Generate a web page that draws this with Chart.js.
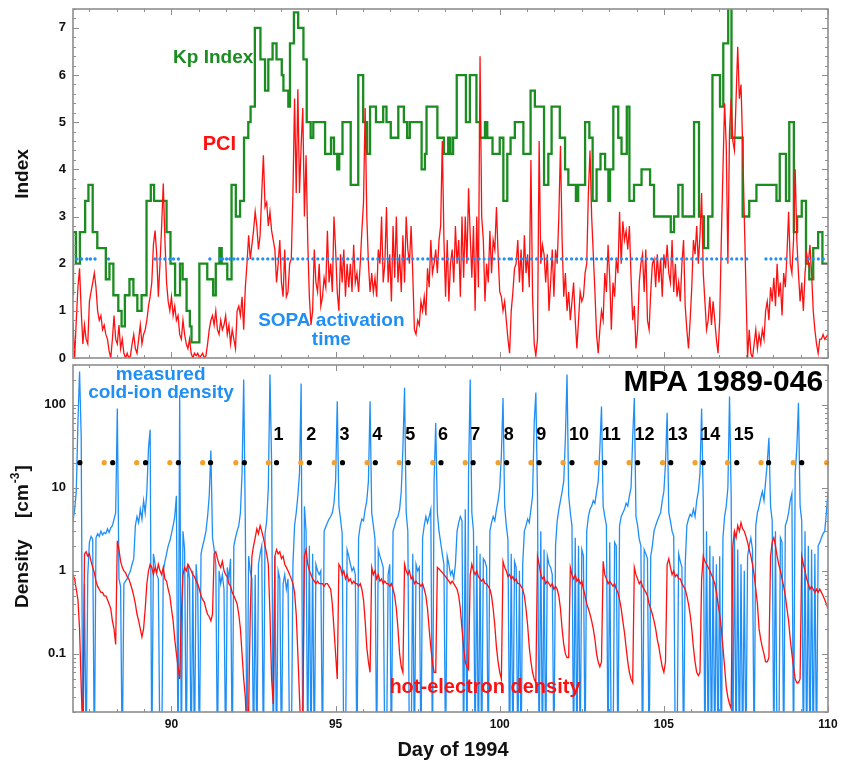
<!DOCTYPE html>
<html>
<head>
<meta charset="utf-8">
<script src="https://cdn.jsdelivr.net/npm/chart.js@4.4.1/dist/chart.umd.min.js"></script>
<style>
  body { margin: 0; background: #fff; }
  #wrap { position: relative; width: 842px; height: 764px; }
  #top { position: absolute; left: 0; top: 0; }
  #bot { position: absolute; left: 0; top: 361px; }
</style>
</head>
<body>
<div id="wrap">
  <canvas id="top" width="842" height="362"></canvas>
  <canvas id="bot" width="842" height="403"></canvas>
</div>
<script>
// ---------- values ----------
const SAMPLE_START = 87.0;   // day of first sample of the noisy series
const SAMPLE_STEP = 0.05;    // spacing of those samples, in days

// Kp index: day where a 3-hour value starts, and the value
const kpDays = [87.00,87.09,87.21,87.37,87.47,87.60,87.74,88.00,88.11,88.23,88.38,88.48,88.58,88.72,88.84,88.96,
  89.09,89.24,89.37,89.47,89.85,89.97,90.11,90.26,90.34,90.46,90.56,90.61,90.85,91.09,91.27,91.35,91.46,91.53,
  91.70,91.83,91.96,92.09,92.21,92.34,92.41,92.54,92.71,92.85,92.95,93.08,93.20,93.36,93.41,93.56,93.61,93.73,
  93.86,94.02,94.12,94.24,94.32,94.68,94.86,94.95,95.05,95.11,95.21,95.46,95.69,95.84,95.96,96.05,96.23,96.45,
  96.55,96.68,96.91,97.08,97.18,97.26,97.62,97.72,97.77,98.10,98.30,98.43,98.50,98.58,98.69,98.97,99.09,99.29,
  99.40,99.55,99.62,99.78,100.00,100.11,100.23,100.33,100.46,100.72,100.94,101.07,101.35,101.48,101.58,101.83,
  101.99,102.09,102.32,102.39,102.60,102.73,102.83,102.95,103.07,103.21,103.31,103.36,103.46,103.61,103.71,
  103.87,103.95,104.09,104.32,104.58,104.70,105.21,105.31,105.44,105.57,105.92,106.07,106.22,106.35,106.48,
  106.71,106.81,106.96,107.06,107.40,107.60,107.82,108.43,108.53,108.72,108.82,108.96,109.06,109.20,109.33,
  109.43,109.55,109.70,109.83,109.96,110.00];
const kpVals = [1.33,2.67,2.0,2.67,3.33,3.67,2.67,2.33,1.67,2.0,1.33,1.0,0.67,1.33,1.67,1.33,
  1.0,1.33,3.33,3.67,3.33,2.67,2.0,1.33,2.0,1.67,1.0,0.67,0.33,2.0,1.67,1.33,2.0,2.33,
  2.0,1.67,3.67,3.0,3.33,4.67,5.0,5.33,7.0,6.33,5.67,6.33,6.67,6.33,6.0,5.67,5.33,6.67,
  7.33,7.0,6.33,5.0,4.67,5.0,4.33,4.67,4.33,4.0,4.33,5.0,3.67,6.0,5.0,4.33,5.33,5.0,
  5.33,5.0,4.67,5.33,5.0,4.67,5.0,4.0,4.33,5.33,4.67,4.33,4.67,4.33,4.67,6.0,5.0,6.0,
  5.0,4.67,5.0,4.67,4.33,4.67,3.33,4.33,4.67,5.0,4.33,5.67,5.33,3.67,4.33,5.33,
  4.67,4.0,3.67,3.33,3.67,5.0,4.67,3.33,4.0,4.33,4.0,3.33,4.0,5.33,4.67,
  4.33,5.33,3.33,3.67,4.0,3.67,3.0,2.67,3.0,3.67,3.0,5.0,3.0,2.33,3.0,
  6.0,5.33,6.67,7.67,4.67,3.0,3.33,3.67,3.33,4.33,3.33,5.0,2.67,3.0,3.33,
  2.0,1.67,2.33,2.67,2.0,2.0];

// PCI index, one value every SAMPLE_STEP days
const pciVals = [0.75,0.0,0.8,1.5,1.9,1.0,0.3,0.7,0.4,0.3,1.2,1.4,1.6,1.8,1.5,1.0,0.8,0.9,0.6,0.7,
  0.5,0.4,0.15,0.0,0.4,0.9,0.4,0.3,0.7,0.2,0.4,0.1,0.0,0.1,0.0,0.05,0.3,0.5,0.2,0.1,
  0.4,0.7,0.3,0.5,0.6,0.8,1.1,1.3,1.6,2.4,2.7,2.2,1.3,2.0,2.8,3.7,2.5,1.6,1.2,1.0,
  1.3,0.9,1.1,0.8,0.9,0.5,0.4,0.8,0.5,0.3,0.2,0.4,0.1,0.0,0.1,0.05,0.1,0.0,0.05,0.1,
  0.0,0.05,0.3,0.6,0.8,0.9,0.7,1.0,0.6,0.5,0.8,0.6,0.7,0.9,0.5,0.7,0.3,0.6,0.4,0.2,
  1.0,1.1,0.9,1.3,0.6,1.5,2.0,2.6,2.1,2.4,2.7,3.1,2.8,2.3,2.6,3.5,4.3,3.2,3.3,2.8,
  3.1,
  2.7,2.5,2.3,1.6,2.0,2.5,1.6,1.3,2.3,1.3,1.4,2.0,2.1,3.5,5.5,3.5,5.7,3.5,4.5,5.3,
  3.0,4.3,2.5,1.3,0.7,1.0,2.3,1.6,1.4,2.0,1.1,1.3,1.7,1.5,2.7,1.6,2.0,1.4,3.0,2.3,1.4,
  1.0,2.2,1.6,2.3,1.3,2.0,1.5,2.0,1.4,2.4,1.6,1.8,1.4,2.0,2.7,3.3,5.3,3.0,2.0,1.4,
  1.8,1.4,1.7,1.3,2.3,2.0,3.0,1.6,2.0,3.2,1.6,2.2,1.2,2.8,1.7,3.0,1.6,2.2,1.4,2.6,
  1.6,3.0,2.3,2.0,2.8,1.8,0.6,0.5,0.8,0.7,1.2,1.0,1.3,0.9,1.9,1.5,2.5,1.8,2.0,
  2.3,1.8,2.5,2.8,4.6,2.5,1.3,2.5,1.2,2.0,2.3,1.6,2.8,2.0,2.5,1.3,3.0,1.7,3.0,2.0,3.6,2.6,
  1.7,2.8,1.0,3.0,1.5,6.4,3.0,2.5,1.2,2.0,1.6,2.7,1.8,2.5,2.3,3.2,2.2,1.4,1.3,1.0,
  1.2,0.8,0.4,0.1,1.0,1.4,1.9,2.0,2.5,1.6,2.3,1.4,2.6,1.8,2.2,1.5,4.2,1.3,0.3,0.05,
  0.4,4.6,2.0,2.4,2.2,1.6,2.2,1.0,
  1.6,2.3,1.3,2.3,2.0,3.0,4.5,2.5,1.3,1.8,1.0,1.4,0.8,1.2,1.6,0.8,0.2,0.8,1.4,1.2,
  1.3,1.8,2.0,3.5,4.4,3.0,2.2,1.4,0.5,0.1,0.6,1.0,0.8,1.8,1.4,2.4,1.7,0.6,1.6,1.3,2.1,
  1.8,3.1,2.0,2.9,2.5,2.7,2.3,2.8,1.7,0.8,1.1,0.2,0.6,1.6,2.0,2.2,1.4,2.3,0.8,0.6,
  1.4,2.0,2.1,1.5,2.2,1.6,2.1,1.3,2.2,1.9,2.4,1.8,1.6,2.5,1.4,2.0,1.3,1.6,1.2,2.0,
  2.5,1.1,0.6,0.2,0.8,1.5,2.5,2.2,2.8,2.0,2.6,3.5,1.8,1.2,0.6,0.8,1.3,0.7,1.2,0.8,0.4,
  0.1,0.8,2.5,4.0,5.4,4.5,2.0,4.8,5.5,4.6,4.4,5.5,6.6,5.5,5.8,4.5,3.0,1.5,0.0,0.6,
  0.1,0.0,0.3,0.6,0.2,0.5,0.3,0.6,0.4,1.0,1.2,0.8,1.5,1.2,1.7,1.1,2.0,1.3,1.6,0.9,
  1.8,1.5,2.2,3.1,2.0,1.8,2.5,4.0,2.5,1.8,1.2,1.6,1.0,1.8,2.2,2.0,
  2.4,1.8,1.0,0.6,0.3,0.1,0.4,0.4,0.5,0.4,0.45,0.5];

// SOPA activation times: dotted runs [from, to] and single dots
const SOPA_LEVEL = 2.1;
const sopaRuns = [[92.02, 99.10], [99.22, 100.30], [100.36, 103.95], [104.02, 107.62],
  [108.11, 108.47], [108.56, 108.84], [109.40, 110.0]];
const sopaDots = [87.11, 87.26, 87.42, 87.53, 87.67, 88.08, 89.50, 89.65, 89.80, 89.95, 90.06, 90.21,
  91.17, 91.48, 91.56, 91.68, 91.78, 91.90, 109.04];

// measured cold-ion density [cm^-3], one value every SAMPLE_STEP days (one row per day)
const coldIon = [
  4.0,5.5,9,60,250,40,0.005,0.7,0.005,0.9,2.2,2.6,2.4,0.005,2.5,2.8,2.6,3.0,2.7,2.9,
  2.8,3.2,2.9,3.3,3.5,4.2,5,90,0.8,0.65,0.005,0.7,0.75,0.8,0.9,1.0,1.2,1.4,3.5,4.5,
  3.8,5.5,4.2,7,5,9,30,50,0.005,1.6,1.2,0.9,0.8,0.005,0.005,1.0,1.3,1.6,2.0,2.3,
  2.8,3.5,4.5,8,0.005,130,0.005,3,1.8,0.005,1.2,0.8,0.005,1.0,0.005,1.2,0.6,0.005,1.6,2.0,
  2.4,3.0,4.5,8,28,2.5,1.8,1.2,0.005,1.0,0.7,0.9,0.6,0.005,1.1,0.8,1.4,0.005,2.0,2.5,
  3.0,3.5,5,15,200,3.5,0.005,1.5,1.0,0.8,0.005,0.9,0.005,1.2,1.6,2.0,0.005,2.8,4,10,
  230,20,0.005,1.5,0.005,1.0,0.8,0.005,0.7,0.9,0.6,0.8,0.005,0.005,1.2,3.5,5,8,15,180,
  0.005,6,3,0.005,2.0,0.005,1.6,0.005,1.2,1.0,0.9,1.0,0.005,3.0,3.4,3.8,4.2,4.5,5.0,6.5,
  12,110,6,4.2,2.8,0.005,0.005,1.8,1.5,1.2,1.0,1.1,0.9,0.005,2.5,3.5,4.2,4.0,5.5,7,
  12,110,5,3.5,2.4,0.005,1.8,1.5,1.3,1.1,0.005,0.005,0.9,1.2,0.005,3.0,3.5,4.2,4.5,5.5,
  9,30,160,5,3.0,0.005,0.005,1.6,0.005,1.2,1.0,1.1,0.005,2.5,3.5,4.5,3.8,4.5,5.5,0.005,
  12,60,5,3.0,2.2,1.6,1.2,0.005,1.5,1.2,0.9,1.0,0.8,1.2,3.0,3.8,4.5,4.0,0.005,5.5,
  0.005,15,200,5,3.0,0.005,2.0,0.005,1.6,0.005,1.4,1.3,1.1,0.005,3.0,3.8,4.5,4.0,5.5,7,
  10,25,120,6,3.5,2.4,0.005,1.6,0.005,1.3,1.1,0.005,1.0,0.005,1.2,3.0,3.5,4.2,3.8,5.5,
  8,60,140,8,0.005,3.0,0.005,1.8,0.005,1.5,1.2,1.1,0.9,0.005,2.0,4.0,5.5,7,9,12,
  40,230,8,5,3.5,0.005,2.5,0.005,2.0,0.005,1.8,1.5,0.005,3.0,4.5,5.5,6,7,6.5,9,
  12,30,95,6,4.5,3.5,0.005,2.2,0.005,0.005,2.2,2.0,0.005,3.5,4.5,5,5.5,6.5,6,8,
  10,40,120,4.5,3.5,2.4,2.0,0.005,1.8,1.6,1.4,0.005,1.5,2.0,3.0,3.5,4,4.5,5,7,
  9,20,80,5,4,3.0,2.6,0.005,0.005,1.6,1.3,1.1,0.005,1.2,3.5,4.2,4.8,4.5,5.5,4.5,
  7,9,15,90,7,0.005,3.0,0.005,2.0,0.005,1.5,0.005,1.2,0.005,1.5,0.005,2.5,4.5,6,10,
  125,8,0.005,3,0.005,1.8,0.005,1.2,0.005,1.0,0.005,1.5,2.0,2.5,1.8,0.005,3.5,5,6,7.5,
  9,7,12,20,40,6,4,0.005,3.0,0.005,0.005,2.5,2.2,0.005,3.5,4,5,7,8.5,0.005,
  15,30,105,6,4,0.005,3,0.005,2.0,0.005,1.8,0.005,1.6,0.005,2.0,2.2,2.5,2.8,3.0,5,
  9];

// hot-electron density [cm^-3], same sampling
const hotElectron = [
  0.9,0.8,0.6,0.45,0.2,0.04,0.01,1.6,1.7,1.5,1.6,1.3,1.1,0.95,0.75,0.65,0.6,0.55,0.55,0.5,
  0.5,0.45,0.4,0.35,0.25,0.2,0.13,2.3,1.8,1.3,1.1,1.0,0.95,0.85,0.8,0.7,0.6,0.5,0.4,0.3,
  0.25,0.2,0.16,0.2,0.35,0.7,1.0,1.2,1.1,0.9,1.1,0.95,1.2,1.0,0.9,1.1,0.8,0.75,0.6,0.5,
  0.35,0.25,0.15,0.1,0.07,0.05,0.3,0.9,1.1,1.0,1.2,1.1,1.0,0.9,0.85,0.75,0.7,0.6,0.5,0.45,
  0.42,0.35,0.3,0.28,0.25,0.3,1.6,1.7,1.4,1.2,1.1,1.3,1.0,0.9,0.85,0.7,0.65,0.55,0.5,0.45,
  0.4,0.3,0.2,0.1,0.05,0.03,0.01,0.02,0.3,1.5,2.0,2.5,3.2,2.8,3.5,3.0,2.5,2.0,1.6,1.2,
  0.3,0.05,0.025,1.5,1.8,1.6,1.7,1.4,1.5,1.2,1.1,1.0,0.9,0.8,0.7,0.55,0.3,0.1,0.03,0.01,
  0.02,1.5,1.8,1.2,1.0,0.9,0.8,0.75,0.7,0.75,0.7,0.7,0.7,0.65,0.7,0.7,0.65,0.6,0.4,0.2,
  0.1,0.05,1.2,1.1,0.9,1.0,0.8,0.9,0.75,0.8,0.7,0.75,0.7,0.7,0.65,0.7,0.6,0.45,0.25,0.12,
  0.08,0.06,1.1,0.9,1.0,0.8,0.9,0.75,0.8,0.7,0.75,0.7,0.7,0.65,0.7,0.6,0.5,0.35,0.2,0.1,
  0.07,0.06,1.2,1.0,0.9,1.0,0.8,0.85,0.7,0.75,0.7,0.7,0.65,0.7,0.6,0.5,0.35,0.2,0.12,0.08,
  0.06,0.06,1.1,1.05,1.0,0.95,0.9,0.85,0.8,0.75,0.7,0.75,0.7,0.65,0.6,0.5,0.35,0.2,0.12,0.08,
  0.07,0.065,0.9,1.2,1.0,0.9,1.0,0.85,0.8,0.75,0.8,0.7,0.7,0.65,0.6,0.5,0.35,0.22,0.12,0.08,
  0.06,0.05,1.3,1.1,1.0,0.85,0.9,0.8,0.85,0.75,0.8,0.7,0.7,0.65,0.6,0.5,0.35,0.22,0.12,0.08,
  0.06,0.05,0.045,1.5,1.2,0.9,0.8,0.85,0.7,0.75,0.7,0.65,0.7,0.6,0.65,0.6,0.5,0.35,0.2,0.13,
  0.1,0.09,0.09,1.1,0.9,0.8,0.9,0.75,0.8,0.7,0.75,0.6,0.5,0.4,0.35,0.3,0.25,0.2,0.15,0.1,
  0.08,0.07,0.08,1.3,0.9,0.8,0.7,0.75,0.7,0.65,0.7,0.6,0.55,0.45,0.35,0.25,0.18,0.12,0.08,0.06,
  0.05,0.045,1.1,0.9,0.8,0.7,0.75,0.65,0.6,0.55,0.5,0.4,0.35,0.3,0.25,0.2,0.15,0.12,0.09,0.07,
  0.06,0.08,1.2,1.4,1.1,0.9,1.0,0.85,0.9,0.8,0.8,0.7,0.65,0.6,0.5,0.4,0.3,0.2,0.12,0.08,
  0.06,0.055,0.06,0.8,1.5,1.3,1.2,1.1,1.0,0.9,0.8,0.7,0.55,0.4,0.3,0.2,0.12,0.07,0.04,0.03,
  0.025,0.022,2.0,3.0,2.5,3.5,3.0,3.8,3.2,3.0,2.6,2.2,1.8,1.5,1.2,0.9,0.6,0.4,0.2,0.15,
  0.12,0.1,0.08,0.08,0.09,1.5,2.2,2.5,2.0,1.5,1.2,1.0,0.8,0.65,0.5,0.35,0.25,0.15,0.1,0.07,
  0.05,0.045,0.045,0.05,1.5,1.2,1.0,0.8,0.7,0.6,0.65,0.6,0.55,0.6,0.55,0.6,0.55,0.5,0.45,0.4,
  0.35];

// orange / black markers at density 20, orbit numbers above the black ones
const MARKER_LEVEL = 20;
const orangeDays = [87.95,88.94,89.95,90.95,91.96,92.95,93.94,94.96,95.96,96.94,97.96,98.95,
  99.95,100.95,101.93,102.95,103.94,104.96,105.95,106.94,107.96,108.94,109.96];
const blackDays = [87.21,88.21,89.21,90.21,91.19,92.22,93.20,94.20,95.21,96.21,97.21,98.21,
  99.19,100.21,101.20,102.20,103.20,104.20,105.21,106.20,107.22,108.19,109.20];
const orbitLabels = ['1','2','3','4','5','6','7','8','9','10','11','12','13','14','15'];
const orbitDays = [93.20,94.20,95.21,96.21,97.21,98.21,99.19,100.21,101.20,102.20,103.20,
  104.20,105.21,106.20,107.22];

// axes
const X_MIN = 87, X_MAX = 110;
const xTickLabels = [90, 95, 100, 105, 110];
const indexTicks = [0, 1, 2, 3, 4, 5, 6, 7];
const densityTicks = [0.1, 1, 10, 100];

// ---------- styles ----------
const GREEN = '#1b8c1f';
const RED = '#ff1010';
const BLUE = '#1f8ff5';
const ORANGE = '#f5a02c';
const FRAME = '#8e8e8e';
const FONT = '"Liberation Sans", Arial, Helvetica, sans-serif';

// series helpers
function samples(vals) {
  return vals.map((v, i) => ({ x: +(SAMPLE_START + i * SAMPLE_STEP).toFixed(3), y: v }));
}
function points(days, vals) {
  return days.map((d, i) => ({ x: d, y: Array.isArray(vals) ? vals[i] : vals }));
}
const sopaLine = [];
sopaRuns.forEach(r => {
  sopaLine.push({ x: r[0], y: SOPA_LEVEL }, { x: r[1], y: SOPA_LEVEL }, { x: r[1] + 0.001, y: null });
});

// inward tick marks along the frame (6 intervals of 5/6 day between labels)
const xTicks = [];
for (let k = -4; k <= 24; k++) {
  const v = 90 + k * 5 / 6;
  if (v > X_MIN && v <= X_MAX + 0.01) xTicks.push([v, k % 6 === 0 ? 6 : 3]);
}
const indexMarks = [];
for (let k = 0; k <= 37; k++) indexMarks.push([k / 5, k % 5 === 0 ? 6 : 3]);
const densityMarks = [];
[0.01, 0.1, 1, 10, 100].forEach(dec => {
  for (let m = 1; m <= 9; m++) {
    const v = +(dec * m).toPrecision(3);
    if (v >= 0.02 && v <= 300) densityMarks.push([v, m === 1 ? 6 : 3]);
  }
});

// ---------- plugins ----------
// frame, inward ticks and tick labels (the scales themselves are hidden)
const frameTicks = {
  id: 'frameTicks',
  afterDatasetsDraw(chart, args, opts) {
    const { ctx, chartArea: a, scales: { x, y } } = chart;
    ctx.save();
    ctx.strokeStyle = FRAME;
    ctx.lineWidth = 1;
    ctx.beginPath();
    opts.xTicks.forEach(([v, len]) => {
      const p = Math.round(x.getPixelForValue(v)) + 0.5;
      ctx.moveTo(p, a.top); ctx.lineTo(p, a.top + len);
      ctx.moveTo(p, a.bottom); ctx.lineTo(p, a.bottom - len);
    });
    opts.yTicks.forEach(([v, len]) => {
      const p = Math.round(y.getPixelForValue(v)) + 0.5;
      ctx.moveTo(a.left, p); ctx.lineTo(a.left + len, p);
      ctx.moveTo(a.right, p); ctx.lineTo(a.right - len, p);
    });
    ctx.stroke();
    ctx.lineWidth = 1.6;
    ctx.strokeRect(a.left, a.top, a.right - a.left, a.bottom - a.top);

    ctx.fillStyle = '#111';
    ctx.textBaseline = 'middle';
    ctx.font = 'bold 13px ' + FONT;
    ctx.textAlign = 'right';
    opts.yLabels.forEach(v => ctx.fillText(String(v), a.left - 7, y.getPixelForValue(v)));
    ctx.font = 'bold 12px ' + FONT;
    ctx.textAlign = 'center';
    (opts.xLabels || []).forEach(v => ctx.fillText(String(v), x.getPixelForValue(v), a.bottom + 13));
    ctx.restore();
  }
};

// texts placed in data coordinates
const panelText = {
  id: 'panelText',
  afterDraw(chart, args, opts) {
    const { ctx, scales: { x, y } } = chart;
    ctx.save();
    ctx.textBaseline = 'middle';
    opts.items.forEach(it => {
      ctx.font = 'bold ' + it.size + 'px ' + FONT;
      ctx.fillStyle = it.color;
      ctx.textAlign = it.align || 'center';
      ctx.fillText(it.text, x.getPixelForValue(it.x) + (it.dx || 0), y.getPixelForValue(it.y));
    });
    if (opts.extra) opts.extra(ctx, chart);
    ctx.restore();
  }
};

function baseOptions(padding) {
  return {
    responsive: false,
    animation: false,
    events: [],
    layout: { padding: padding },
    elements: { line: { tension: 0 }, point: { radius: 0 } },
    plugins: { legend: { display: false }, tooltip: { enabled: false } }
  };
}

// ---------- top panel: Kp, PCI, SOPA ----------
const topOpts = baseOptions({ top: 9, right: 14, bottom: 2, left: 73 });
topOpts.scales = {
  x: { type: 'linear', min: X_MIN, max: X_MAX, display: false },
  y: { type: 'linear', min: 0, max: 7.4, display: false }
};
topOpts.plugins.frameTicks = { xTicks: xTicks, yTicks: indexMarks, yLabels: indexTicks };
topOpts.plugins.panelText = {
  items: [
    { text: 'Kp Index', x: 91.27, y: 6.36, color: GREEN, size: 19 },
    { text: 'PCI', x: 91.46, y: 4.52, color: RED, size: 20 },
    { text: 'SOPA activation', x: 94.87, y: 0.80, color: BLUE, size: 19 },
    { text: 'time', x: 94.87, y: 0.38, color: BLUE, size: 19 }
  ],
  extra: ctx => {
    ctx.save();
    ctx.translate(23, 174);
    ctx.rotate(-Math.PI / 2);
    ctx.font = 'bold 19px ' + FONT;
    ctx.fillStyle = '#111';
    ctx.textAlign = 'center';
    ctx.fillText('Index', 0, 0);
    ctx.restore();
  }
};

new Chart(document.getElementById('top'), {
  type: 'line',
  data: {
    datasets: [
      { data: sopaLine, borderColor: BLUE, borderWidth: 3.2, borderDash: [0, 5], borderCapStyle: 'round',
        spanGaps: false, parsing: false },
      { data: points(sopaDots, SOPA_LEVEL), showLine: false, pointRadius: 1.7, pointBorderWidth: 0,
        pointBackgroundColor: BLUE, parsing: false },
      { data: samples(pciVals), borderColor: RED, borderWidth: 1.3, parsing: false },
      { data: points(kpDays, kpVals), borderColor: GREEN, borderWidth: 2.3, stepped: 'after', parsing: false }
    ]
  },
  options: topOpts,
  plugins: [frameTicks, panelText]
});

// ---------- bottom panel: densities ----------
const botOpts = baseOptions({ top: 1, right: 14, bottom: 52, left: 73 });
botOpts.scales = {
  x: { type: 'linear', min: X_MIN, max: X_MAX, display: false },
  y: { type: 'logarithmic', min: 0.02, max: 300, display: false }
};
botOpts.plugins.frameTicks = { xTicks: xTicks, yTicks: densityMarks, yLabels: densityTicks,
  xLabels: xTickLabels };
botOpts.plugins.panelText = {
  items: [
    { text: 'measured', x: 89.67, y: 226, color: BLUE, size: 19 },
    { text: 'cold-ion density', x: 89.68, y: 138, color: BLUE, size: 19 },
    { text: 'hot-electron density', x: 99.55, y: 0.039, color: RED, size: 20 },
    { text: 'MPA 1989-046', x: 109.85, y: 181, color: '#000', size: 30, align: 'right' }
  ].concat(orbitLabels.map((t, i) => ({ text: t, x: orbitDays[i], y: 43, color: '#000', size: 18,
    align: 'left', dx: -3 }))),
  extra: ctx => {
    // axis titles
    ctx.fillStyle = '#111';
    ctx.textAlign = 'center';
    ctx.font = 'bold 20px ' + FONT;
    ctx.fillText('Day of 1994', 453, 389);
    ctx.save();
    ctx.translate(23, 247);
    ctx.rotate(-Math.PI / 2);
    ctx.textAlign = 'left';
    ctx.font = 'bold 19px ' + FONT;
    ctx.fillText('Density', 0, 0);
    let u = 90;
    ctx.fillText('[cm', u, 0);
    u += ctx.measureText('[cm').width;
    ctx.font = 'bold 12px ' + FONT;
    ctx.fillText('-3', u + 1, -7);
    u += ctx.measureText('-3').width + 2;
    ctx.font = 'bold 19px ' + FONT;
    ctx.fillText(']', u, 0);
    ctx.restore();
  }
};

new Chart(document.getElementById('bot'), {
  type: 'line',
  data: {
    datasets: [
      { data: points(orangeDays, MARKER_LEVEL), showLine: false, pointRadius: 2.6, pointBorderWidth: 0,
        pointBackgroundColor: ORANGE, clip: 4, parsing: false },
      { data: points(blackDays, MARKER_LEVEL), showLine: false, pointRadius: 2.6, pointBorderWidth: 0,
        pointBackgroundColor: '#000', clip: 4, parsing: false },
      { data: samples(hotElectron), borderColor: RED, borderWidth: 1.3, parsing: false },
      { data: samples(coldIon), borderColor: BLUE, borderWidth: 1.3, parsing: false }
    ]
  },
  options: botOpts,
  plugins: [frameTicks, panelText]
});
</script>
</body>
</html>
